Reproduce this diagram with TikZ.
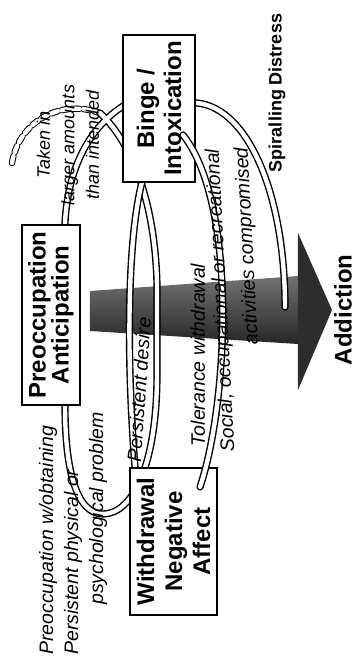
\documentclass[tikz,border=0pt]{standalone}
\usepackage{fontspec}
\setmainfont{Liberation Sans}
\usetikzlibrary{calc}

\begin{document}
\begin{tikzpicture}[
  x=1pt, y=1pt, rotate=90, transform shape,
  stagebox/.style={rectangle, draw, line width=1.3pt, fill=white, align=center,
                   inner sep=0pt},
  tube/.style={line width=1.4pt, double=white, double distance=4.4pt, line cap=round},
  crit/.style={font=\itshape\fontsize{19.5}{25}\selectfont, inner sep=0pt},
  bigword/.style={font=\bfseries\fontsize{24}{26}\selectfont, inner sep=0pt}
]
\useasboundingbox (0,0) rectangle (664,358);

% addiction arrow
\shade[top color=black!55, bottom color=black!85]
  (333,268) -- (373,268) -- (388,60) -- (320,60) -- cycle;
\fill[black!82] (274,60) -- (431,60) -- (354,26) -- cycle;
\node[bigword] (addict) at (354,15) {Addiction};

% spiral, back part
\draw[tube, line width=1pt, dash pattern=on 7pt off 4pt]
  (501,346) .. controls (540,340) and (566,300) .. (551,258);
\draw[tube] (551,258) .. controls (520,225) and (460,203) .. (380,201)
  -- (290,201) .. controls (200,201) and (150,225) .. (150,255)
  .. controls (150,282) and (195,293) .. (259,293) -- (441,293)
  .. controls (500,290) and (545,265) .. (565,222);
\draw[tube] (495,212) .. controls (440,232) and (300,232) .. (185,222);
\draw[tube] (561,175) -- (561,161) .. controls (556,110) and (470,73) .. (357,73);

% stage boxes
\node[stagebox, minimum width=180pt, minimum height=58pt,
      font=\bfseries\fontsize{24}{23}\selectfont] (pre) at (349,307)
      {Preoccupation\\Anticipation};
\node[stagebox, minimum width=147pt, minimum height=72pt,
      font=\bfseries\fontsize{24}{27}\selectfont] (binge) at (555.5,199)
      {Binge /\\Intoxication};
\node[stagebox, minimum width=147pt, minimum height=87pt,
      font=\bfseries\fontsize{24}{28}\selectfont] (withd) at (122.5,184.5)
      {Withdrawal\\Negative\\Affect};

% spiral, front part
\draw[tube] (177,158) .. controls (260,130) and (460,120) .. (529,175);

% criteria
\node[crit, align=left, anchor=west] (obtain) at (9,285)
  {Preoccupation w/obtaining\\Persistent physical or\\\hspace*{50pt}psychological problem};
\node[crit, align=center, font=\itshape\fontsize{18}{24.5}\selectfont] (taken) at (519,290)
  {Taken in\\larger amounts\\than intended};
\node[crit, rotate=-4] (desire) at (274,219) {Persistent desire};
\node[crit] (toler) at (309,160) {Tolerance withdrawal};
\node[crit, align=right, anchor=east, rotate=3,
      font=\itshape\fontsize{19.5}{29}\selectfont] (social) at (516,130)
  {Social, occupational or recreational\\activities compromised};
\node[font=\bfseries\fontsize{18}{20}\selectfont, inner sep=0pt] (spiral) at (571,81)
  {Spiralling Distress};

\end{tikzpicture}
\end{document}
